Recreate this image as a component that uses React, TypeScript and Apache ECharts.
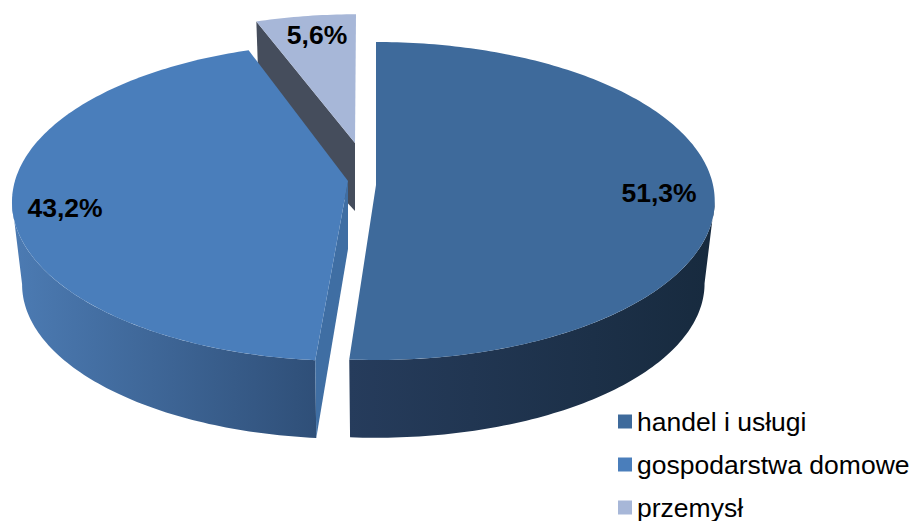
import React, { useEffect, useRef } from "react";
import * as echarts from "echarts";

const categories = ["handel i usługi", "gospodarstwa domowe", "przemysł"];
const shares = [51.3, 43.2, 5.6];

const topColors = ["#3E6A9B", "#4A7EBB", "#A7B7D8"];
const wallColors = [
  ["#263C5C", "#172A3E"],
  ["#4C7BB3", "#2F4F78"],
  ["#454D5C", "#454D5C"],
];
const cutColors = [null, "#3F6EA3", "#454D5C"];
const FONT = "Liberation Sans, Arial, sans-serif";

// Perspective of the tilted disc
const RX = 337;
const RY = 157.4;
const K = 0.1006;
const DEPTH = 83;
const APEX_DEPTH = 68;
const BOTTOM_SCALE = 0.97;
const SILHOUETTE_A = 95.7;
const SILHOUETTE_B = 264.3;

const sliceLayout = [
  { cx: 376, cy: 185, ax: 376, ay: 185, sx: 1, sy: 1, startTweak: 0, endTweak: -0.4, lx: 659, ly: 193 },
  { cx: 349, cy: 186, ax: 348, ay: 181, sx: 0.995, sy: 1, startTweak: 0.7, endTweak: 1, lx: 65, ly: 208 },
  { cx: 356, cy: 143, ax: 355, ay: 143, sx: 0.94, sy: 0.9, startTweak: 0, endTweak: 0, lx: 317, ly: 35 },
];

function angleRange(i: number) {
  const total = shares.reduce((a, b) => a + b, 0);
  const before = shares.slice(0, i).reduce((a, b) => a + b, 0);
  const L = sliceLayout[i];
  return [
    (before / total) * 360 + L.startTweak,
    ((before + shares[i]) / total) * 360 + L.endTweak,
  ];
}

function rim(i: number, deg: number, lower: boolean): number[] {
  const L = sliceLayout[i];
  const t = (deg * Math.PI) / 180;
  const u = Math.sin(t);
  const v = -Math.cos(t);
  const w = 1 - K * v;
  const s = lower ? BOTTOM_SCALE : 1;
  return [
    L.cx + (s * L.sx * RX * u) / w,
    L.cy + (lower ? DEPTH : 0) + (s * L.sy * RY * v) / w,
  ];
}

function arc(i: number, a: number, b: number, lower: boolean) {
  const n = Math.max(2, Math.ceil(Math.abs(b - a)));
  const out: number[][] = [];
  for (let j = 0; j <= n; j++) out.push(rim(i, a + ((b - a) * j) / n, lower));
  return out;
}

function makeRender(i: number) {
  return (_params: any, api: any) => {
    const L = sliceLayout[i];
    const [a, b] = angleRange(i);
    const children: any[] = [];
    const wa = Math.max(a, SILHOUETTE_A);
    const wb = Math.min(b, SILHOUETTE_B);
    if (wb > wa) {
      const pts = [...arc(i, wa, wb, false), ...arc(i, wb, wa, true)];
      children.push({
        type: "polygon",
        shape: { points: pts },
        style: {
          fill: new echarts.graphic.LinearGradient(0, 0, 1, 0, [
            { offset: 0, color: wallColors[i][0] },
            { offset: 1, color: wallColors[i][1] },
          ]),
        },
      });
    }
    if (cutColors[i]) {
      children.push({
        type: "polygon",
        shape: {
          points: [
            [L.ax, L.ay],
            rim(i, a, false),
            rim(i, a, true),
            [L.ax, L.ay + APEX_DEPTH],
          ],
        },
        style: { fill: cutColors[i] },
      });
    }
    children.push({
      type: "polygon",
      shape: { points: [[L.ax, L.ay], ...arc(i, a, b, false)] },
      style: { fill: topColors[i] },
    });
    const value = api.value(0) as number;
    children.push({
      type: "text",
      z2: 10,
      style: {
        x: L.lx,
        y: L.ly,
        text: value.toFixed(1).replace(".", ",") + "%",
        fill: "#000000",
        font: `bold 26.5px ${FONT}`,
        align: "center",
        verticalAlign: "middle",
      },
    });
    return { type: "group", children };
  };
}

export default function App() {
  const ref = useRef<HTMLDivElement>(null);
  useEffect(() => {
    const chart = echarts.init(ref.current!, undefined, { renderer: "svg" });
    chart.setOption({
      animation: false,
      backgroundColor: "#ffffff",
      legend: {
        data: categories,
        orient: "vertical",
        left: 618,
        top: 408,
        height: 135,
        padding: 0,
        itemWidth: 14,
        itemHeight: 14,
        itemGap: 16,
        icon: "rect",
        selectedMode: false,
        textStyle: { fontFamily: FONT, fontSize: 26.5, lineHeight: 24, color: "#000000" },
      },
      series: categories.map((name, i) => ({
        type: "custom",
        name,
        coordinateSystem: "none",
        z: [3, 2, 1][i],
        silent: true,
        itemStyle: { color: topColors[i] },
        data: [[shares[i]]],
        renderItem: makeRender(i),
      })),
    });
    return () => chart.dispose();
  }, []);
  return (
    <div
      ref={ref}
      style={{ position: "fixed", left: 0, top: 0, width: 914, height: 521 }}
    />
  );
}
